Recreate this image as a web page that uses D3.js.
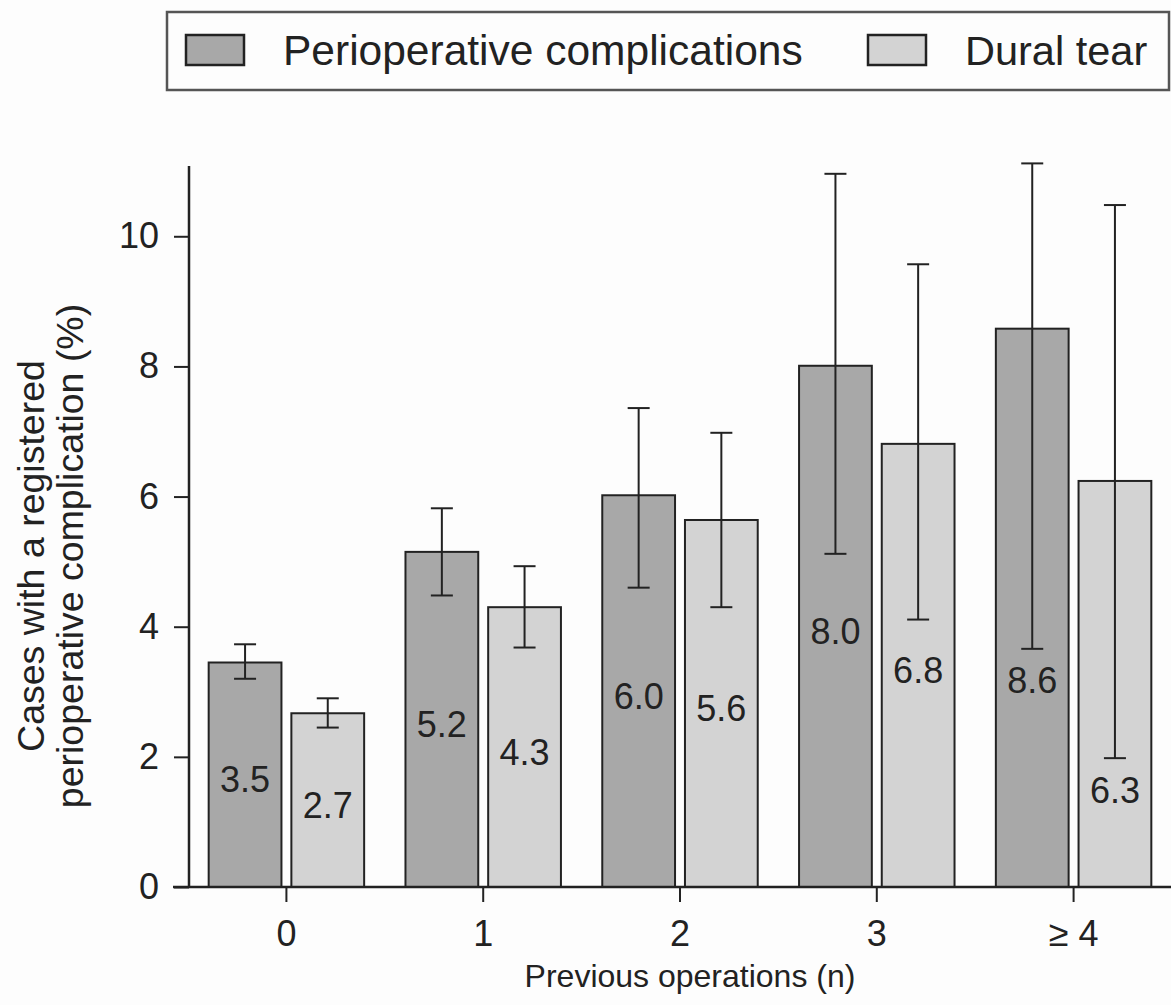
<!DOCTYPE html>
<html>
<head>
<meta charset="utf-8">
<script src="https://cdn.jsdelivr.net/npm/d3@7"></script>
<style>
  body { margin: 0; background: #fdfdfd; }
  text { font-family: "Liberation Sans", Arial, sans-serif; fill: #222; }
</style>
</head>
<body>
<script>
// categories and series
var categories = ["0", "1", "2", "3", "\u2265 4"];
var seriesNames = ["Perioperative complications", "Dural tear"];

// bar heights
var periop = [3.45, 5.15, 6.02, 8.01, 8.58];
var dural = [2.67, 4.30, 5.64, 6.81, 6.24];

// error bar ends
var periopLow = [3.20, 4.48, 4.60, 5.12, 3.66];
var periopHigh = [3.73, 5.82, 7.36, 10.96, 11.12];
var duralLow = [2.45, 3.68, 4.30, 4.11, 1.98];
var duralHigh = [2.90, 4.93, 6.98, 9.57, 10.48];

// printed labels
var periopLabels = ["3.5", "5.2", "6.0", "8.0", "8.6"];
var duralLabels = ["2.7", "4.3", "5.6", "6.8", "6.3"];

var yTicks = [0, 2, 4, 6, 8, 10];

var fills = {"Perioperative complications": "#a8a8a8", "Dural tear": "#d3d3d3"};

var width = 1171, height = 1005;

var svg = d3.select("body").append("svg")
    .attr("width", width)
    .attr("height", height);

// build rows for each category
var rows = categories.map(function(c, i) {
  return {
    cat: c,
    bars: [
      {series: seriesNames[0], value: periop[i], lo: periopLow[i], hi: periopHigh[i], label: periopLabels[i]},
      {series: seriesNames[1], value: dural[i], lo: duralLow[i], hi: duralHigh[i], label: duralLabels[i]}
    ]
  };
});

// scales
var x0 = d3.scaleBand()
    .domain(categories)
    .range([189, 1171])
    .paddingInner(0.21)
    .paddingOuter(0.1);

var x1 = d3.scaleBand()
    .domain(seriesNames)
    .range([0, x0.bandwidth()])
    .paddingInner(0.12);

var y = d3.scaleLinear()
    .domain([0, 11.08])
    .range([887, 166]);

// bars
var groups = svg.selectAll(".grp")
    .data(rows)
    .enter()
    .append("g")
    .attr("class", "grp")
    .attr("transform", function(d) { return "translate(" + x0(d.cat) + ",0)"; });

var bar = groups.selectAll(".bar")
    .data(function(d) { return d.bars; })
    .enter()
    .append("g")
    .attr("class", "bar");

bar.append("rect")
    .attr("x", function(d) { return x1(d.series); })
    .attr("width", x1.bandwidth())
    .attr("y", function(d) { return y(d.value); })
    .attr("height", function(d) { return y(0) - y(d.value); })
    .attr("fill", function(d) { return fills[d.series]; })
    .attr("stroke", "#222")
    .attr("stroke-width", 2);

// error bars
var cap = 11;
bar.append("line")
    .attr("x1", function(d) { return x1(d.series) + x1.bandwidth() / 2; })
    .attr("x2", function(d) { return x1(d.series) + x1.bandwidth() / 2; })
    .attr("y1", function(d) { return y(d.lo); })
    .attr("y2", function(d) { return y(d.hi); })
    .attr("stroke", "#222")
    .attr("stroke-width", 2);

bar.selectAll(".cap")
    .data(function(d) { return [d.lo, d.hi].map(function(v) { return {series: d.series, v: v}; }); })
    .enter()
    .append("line")
    .attr("class", "cap")
    .attr("x1", function(d) { return x1(d.series) + x1.bandwidth() / 2 - cap; })
    .attr("x2", function(d) { return x1(d.series) + x1.bandwidth() / 2 + cap; })
    .attr("y1", function(d) { return y(d.v); })
    .attr("y2", function(d) { return y(d.v); })
    .attr("stroke", "#222")
    .attr("stroke-width", 2);

// value labels: middle of bar, or under the lower cap if it is in the way
bar.append("text")
    .attr("x", function(d) { return x1(d.series) + x1.bandwidth() / 2; })
    .attr("y", function(d) {
      var mid = (y(0) + y(d.value)) / 2 + 5;
      return Math.max(mid, y(d.lo) + 32);
    })
    .attr("text-anchor", "middle")
    .attr("dominant-baseline", "central")
    .style("font-size", "36px")
    .text(function(d) { return d.label; });

// y axis
var yAxis = svg.append("g")
    .attr("transform", "translate(189,0)")
    .call(d3.axisLeft(y).tickValues(yTicks).tickSize(15).tickPadding(15).tickFormat(d3.format("d")));
yAxis.select(".domain").attr("stroke", "#222").attr("stroke-width", 2.5).attr("d", "M0," + y(0) + "V166");
yAxis.selectAll(".tick line").attr("stroke", "#222").attr("stroke-width", 2);
yAxis.selectAll(".tick text").style("font-size", "36px").attr("fill", "#222");

// x axis
var xAxis = svg.append("g")
    .attr("transform", "translate(0," + y(0) + ")")
    .call(d3.axisBottom(x0).tickSize(15).tickPadding(18));
xAxis.select(".domain").attr("stroke", "#222").attr("stroke-width", 2.5).attr("d", "M173,0H1171");
xAxis.selectAll(".tick line").attr("stroke", "#222").attr("stroke-width", 2);
xAxis.selectAll(".tick text").style("font-size", "36px").attr("fill", "#222");

// axis titles
svg.append("text")
    .attr("x", 690)
    .attr("y", 976)
    .attr("text-anchor", "middle")
    .attr("dominant-baseline", "central")
    .style("font-size", "32px")
    .text("Previous operations (n)");

var yTitle = svg.append("text")
    .attr("transform", "translate(0,556) rotate(-90)")
    .attr("text-anchor", "middle")
    .style("font-size", "37.5px");
yTitle.append("tspan").attr("x", 0).attr("y", 44).text("Cases with a registered");
yTitle.append("tspan").attr("x", 0).attr("y", 83).text("perioperative complication (%)");

// legend
svg.append("rect")
    .attr("x", 167)
    .attr("y", 12)
    .attr("width", 1002)
    .attr("height", 78)
    .attr("fill", "#fdfdfd")
    .attr("stroke", "#555")
    .attr("stroke-width", 2.5);

var legendX = [186, 868];
var legendSize = ["42.5px", "41.5px"];
var leg = svg.selectAll(".leg")
    .data(seriesNames)
    .enter()
    .append("g")
    .attr("class", "leg")
    .attr("transform", function(d, i) { return "translate(" + legendX[i] + ",0)"; });

leg.append("rect")
    .attr("x", 0)
    .attr("y", 35)
    .attr("width", 58)
    .attr("height", 30)
    .attr("fill", function(d) { return fills[d]; })
    .attr("stroke", "#222")
    .attr("stroke-width", 2.5);

leg.append("text")
    .attr("x", 97)
    .attr("y", 50)
    .attr("dominant-baseline", "central")
    .style("font-size", function(d, i) { return legendSize[i]; })
    .text(function(d) { return d; });
</script>
</body>
</html>
